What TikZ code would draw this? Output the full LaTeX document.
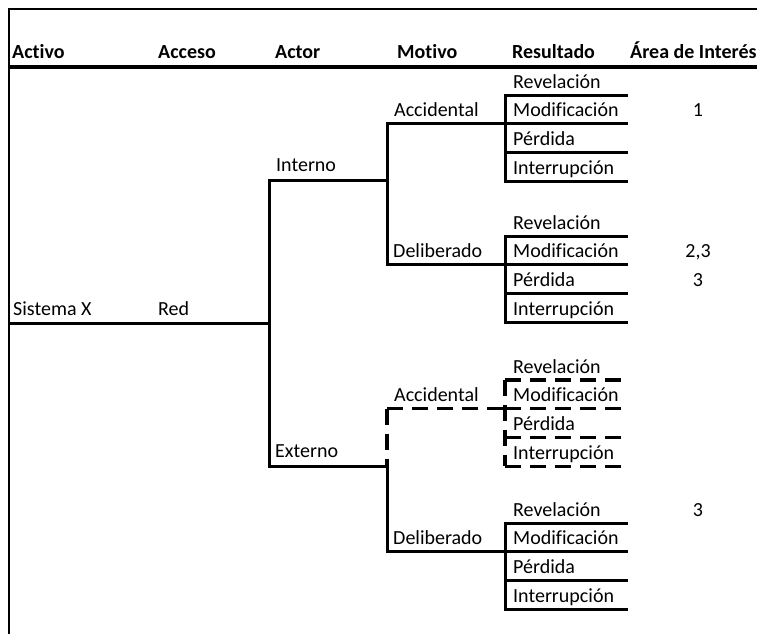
\documentclass[tikz,border=0pt]{standalone}
\usepackage{fontspec}
\setmainfont{Carlito}[Ligatures={NoCommon,NoRare,NoDiscretionary,NoContextual}]
\begin{document}
\begin{tikzpicture}[x=1pt,y=-1pt,
  lbl/.style={anchor=base west,inner sep=0pt,font=\fontsize{20}{24}\selectfont},
  hdr/.style={anchor=base west,inner sep=0pt,font=\fontsize{20}{24}\selectfont\bfseries},
  num/.style={anchor=base,inner sep=0pt,font=\fontsize{20}{24}\selectfont},
  tree/.style={line width=3pt,line cap=rect},
  treedash/.style={line width=3.2pt,dash pattern=on 16pt off 9pt},
  frame/.style={line width=2pt},
  rule/.style={line width=4pt}]
\useasboundingbox (0,0) rectangle (757,633);
\clip (0,0) rectangle (757,633);

% outer frame and header rule
\coordinate (tl) at (9,9);
\coordinate (tr) at (765,9);
\coordinate (bl) at (9,640);
\draw[frame] (tr) -- (tl) -- (bl);
\coordinate (hl) at (9,67);
\coordinate (hr) at (765,67);
\draw[rule] (hl) -- (hr);

% column headers
\node[hdr] (hActivo) at (12,58) {Activo};
\node[hdr] (hAcceso) at (158,58) {Acceso};
\node[hdr] (hActor) at (275,58) {Actor};
\node[hdr] (hMotivo) at (397,58) {Motivo};
\node[hdr] (hResultado) at (512,58) {Resultado};
\node[hdr] (hArea) at (630,58) {Área de Interés};

% asset and access
\node[lbl] (sys) at (13,315) {Sistema X};
\node[lbl] (red) at (158,315) {Red};
\coordinate (root) at (9,323);
\coordinate (actJ) at (269,323);
\draw[tree] (root) -- (actJ);

% actor branches
\coordinate (intS) at (269,180);
\coordinate (extS) at (269,466);
\coordinate (intE) at (387,180);
\coordinate (extE) at (387,466);
\draw[tree] (intS) -- (extS);
\draw[tree] (intS) -- (intE);
\draw[tree] (extS) -- (extE);
\node[lbl] (interno) at (276,171) {Interno};
\node[lbl] (externo) at (275,457) {Externo};

% motive junctions
\coordinate (mA) at (387,123.7);
\coordinate (mB) at (387,264.7);
\coordinate (mC) at (387,408.7);
\coordinate (mD) at (387,551.7);
\draw[tree] (mA) -- (mB);
\draw[treedash] (mC) -- (extE);
\draw[tree] (extE) -- (mD);
\node[lbl] (accA) at (394,116.7) {Accidental};
\node[lbl] (delB) at (393,257.7) {Deliberado};
\node[lbl] (accC) at (394,401.7) {Accidental};
\node[lbl] (delD) at (393,544.7) {Deliberado};

% result groups
\foreach \g/\t/\s in {A/95/tree,B/236/tree,C/380/treedash,D/523/tree}{
  \foreach \k in {0,...,3}{
    \coordinate (r\g\k) at (505,{\t+\k*28.7});
    \coordinate (e\g\k) at (626,{\t+\k*28.7});
  }
  \draw[\s] (m\g) -- (r\g1);
  \draw[\s] (r\g0) -- (r\g3);
  \foreach \k in {0,...,3}{
    \draw[\s] (r\g\k) -- (e\g\k);
  }
  \node[lbl] (rev\g) at (513,{\t-7}) {Revelación};
  \node[lbl] (mod\g) at (513,{\t+28.7-7}) {Modificación};
  \node[lbl] (per\g) at (513,{\t+57.4-7}) {Pérdida};
  \node[lbl] (itr\g) at (513,{\t+86.1-7}) {Interrupción};
}

% areas of interest
\node[num] (n1) at (698,116.7) {1};
\node[num] (n23) at (698,257.7) {2,3};
\node[num] (n3a) at (698,286.4) {3};
\node[num] (n3b) at (698,516) {3};
\end{tikzpicture}
\end{document}
